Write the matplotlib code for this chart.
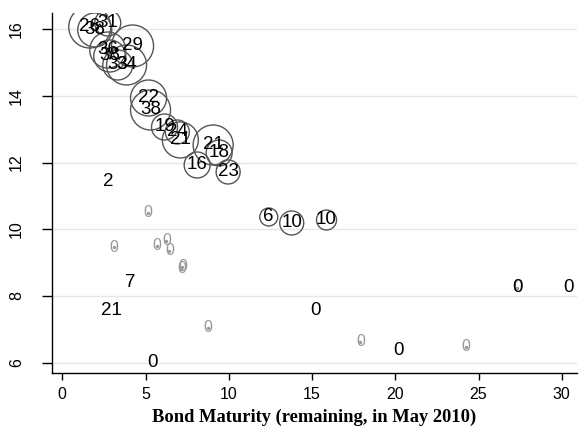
import matplotlib
matplotlib.use('Agg')
import matplotlib.pyplot as plt

# bubbles: maturity, yield, label, size (circle radius in px)
bub_x = [1.65, 1.95, 2.73, 2.73, 4.22, 2.85, 3.33, 3.86, 5.18, 5.30,
         6.14, 6.91, 7.09, 9.06, 9.42, 8.10, 9.96, 12.40, 13.78, 15.87]
bub_y = [16.07, 15.98, 16.19, 15.38, 15.50, 15.20, 14.93, 14.93, 13.94, 13.58,
         13.07, 12.92, 12.68, 12.53, 12.29, 11.93, 11.72, 10.37, 10.19, 10.28]
bub_lab = ["26", "38", "31", "36", "29", "38", "33", "34", "22", "38",
           "19", "24", "21", "21", "18", "16", "23", "6", "10", "10"]
bub_r = [21, 17, 13, 18, 21, 16, 15, 20, 18, 20,
         13, 12, 18, 20, 13, 13, 12, 9, 12, 10]

# black labels, no circle
blk_x = [2.74, 4.10, 2.97, 5.42, 15.21, 20.17, 27.34, 30.39]
blk_y = [11.42, 8.39, 7.55, 5.99, 7.55, 6.35, 8.24, 8.24]
blk_lab = ["2", "7", "21", "0", "0", "0", "0", "0"]

# grey zero points
gry_x = [5.12, 3.09, 5.66, 6.25, 6.43, 7.15, 7.21, 8.76, 17.90, 24.23, 27.34]
gry_y = [10.49, 9.46, 9.50, 9.65, 9.35, 8.81, 8.87, 7.04, 6.62, 6.47, 8.24]

fig = plt.figure(figsize=(5.82, 4.33), dpi=100)
ax = fig.add_axes([0.0893, 0.1386, 0.9017, 0.8314])

# radius px -> marker area in pt^2
sizes = [(2 * r * 72 / 100) ** 2 for r in bub_r]
ax.scatter(bub_x, bub_y, s=sizes, facecolors='none', edgecolors='#555555', linewidths=1.0, zorder=3)
for x, y, t in zip(bub_x, bub_y, bub_lab):
    ax.text(x, y, t, ha='center', va='center', fontsize=13.5, family='Liberation Sans', color='black', zorder=4)

ax.scatter(gry_x, gry_y, s=2, color='#999999', zorder=3)
for x, y in zip(gry_x, gry_y):
    ax.text(x, y, "0", ha='center', va='center', fontsize=11.5, family='Liberation Sans', color='#999999', zorder=4)

for x, y, t in zip(blk_x, blk_y, blk_lab):
    ax.text(x, y, t, ha='center', va='center', fontsize=13.5, family='Liberation Sans', color='black', zorder=5)

ax.set_xlim(-0.62, 30.9)
ax.set_ylim(5.69, 16.49)
ax.set_xticks([0, 5, 10, 15, 20, 25, 30])
ax.set_yticks([6, 8, 10, 12, 14, 16])
ax.yaxis.grid(True, color='#e6e6e6', linewidth=1.0)
ax.set_axisbelow(True)

for s in ['top', 'right']:
    ax.spines[s].set_visible(False)
for s in ['left', 'bottom']:
    ax.spines[s].set_linewidth(1.0)

ax.tick_params(axis='x', length=5, width=1, pad=5, labelsize=11.5)
ax.tick_params(axis='y', length=7, width=1, pad=13, labelsize=11.5)
for lab in ax.get_xticklabels() + ax.get_yticklabels():
    lab.set_family('Liberation Sans')
for lab in ax.get_yticklabels():
    lab.set_rotation(90)
    lab.set_va('center')
    lab.set_ha('right')

ax.set_xlabel("Bond Maturity (remaining, in May 2010)", family='Liberation Serif',
              fontweight='bold', fontsize=13.3, labelpad=5)

fig.savefig("out.png", dpi=100)
